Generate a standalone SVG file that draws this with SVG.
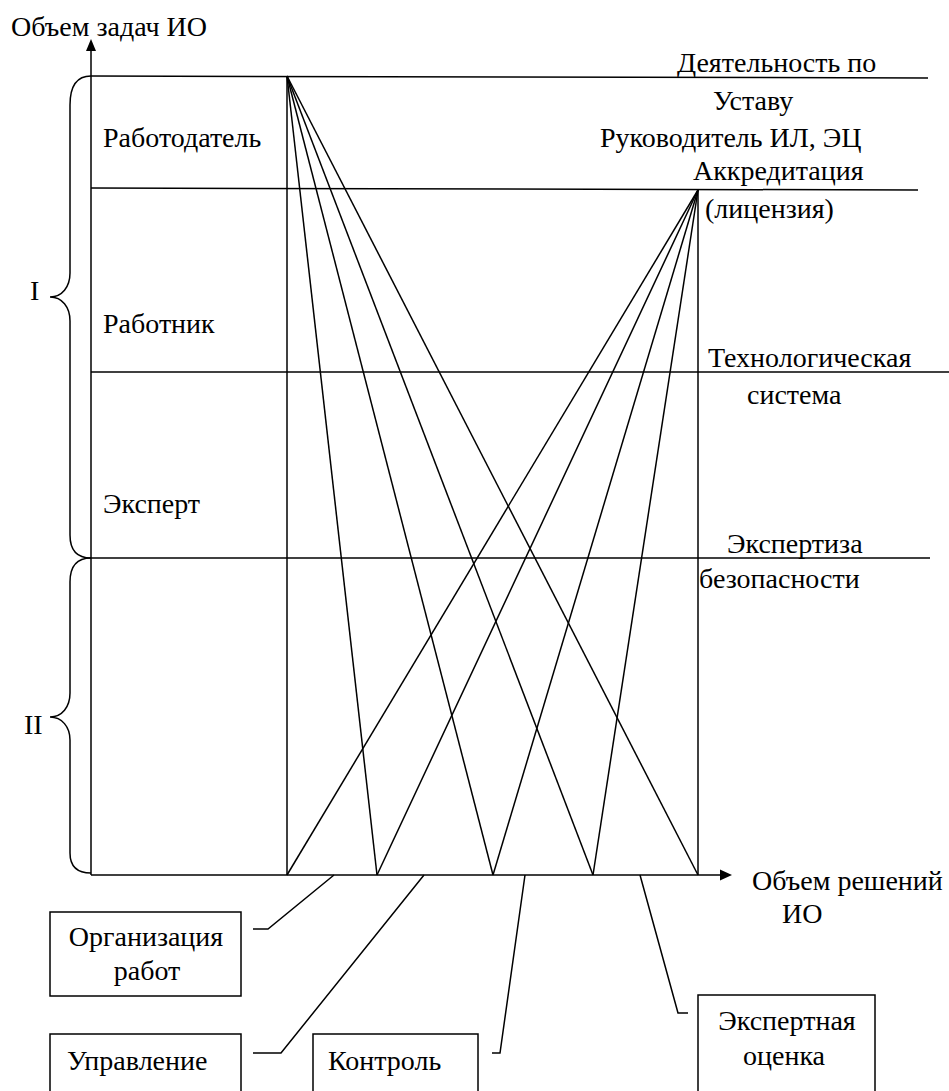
<svg xmlns="http://www.w3.org/2000/svg" width="949" height="1091" viewBox="0 0 949 1091">
<defs>
<style>
.l{stroke:#000;stroke-width:1.5;fill:none}
.b{stroke:#000;stroke-width:1.5;fill:#fff}
</style>
</defs>
<rect width="949" height="1091" fill="#fff"/>
<g id="axes">
<line class="l" x1="91" y1="875" x2="91" y2="48"/>
<line class="l" x1="91" y1="875" x2="721" y2="875"/>
<polygon points="91,39 86,51 96,51" fill="#000"/>
<polygon points="732,875 720,869.5 720,880.5" fill="#000"/>
<text x="11" y="36" style="font-family:'Liberation Serif';font-size:28px">Объем задач ИО</text>
<text x="752" y="890" style="font-family:'Liberation Serif';font-size:28px">Объем решений</text>
<text x="782" y="923" style="font-family:'Liberation Serif';font-size:28px">ИО</text>
</g>
<g id="levels">
<line class="l" x1="91" y1="76" x2="928" y2="78"/>
<line class="l" x1="91" y1="188" x2="918" y2="190"/>
<line class="l" x1="91" y1="372" x2="949" y2="372"/>
<line class="l" x1="91" y1="558" x2="930" y2="558"/>
<line class="l" x1="287" y1="76" x2="287" y2="875"/>
<line class="l" x1="698" y1="190" x2="698" y2="875"/>
</g>
<g id="brace-I">
<path class="l" d="M91,76 C76,76 70,88 70,105 L70,273 C70,287 62,297 50,297 C62,297 70,307 70,321 L70,535 C70,549 76,558 91,558"/>
<text x="30" y="300" style="font-family:'Liberation Serif';font-size:28px">I</text>
</g>
<g id="brace-II">
<path class="l" d="M91,558 C76,558 70,568 70,582 L70,693 C70,707 62,717 50,717 C62,717 70,727 70,740 L70,853 C70,865 76,873 91,873"/>
<text x="24" y="734" style="font-family:'Liberation Serif';font-size:28px">II</text>
</g>
<g id="left-labels">
<text x="103" y="147" style="font-family:'Liberation Serif';font-size:28px">Работодатель</text>
<text x="103" y="333" style="font-family:'Liberation Serif';font-size:28px">Работник</text>
<text x="103" y="513" style="font-family:'Liberation Serif';font-size:28px">Эксперт</text>
</g>
<g id="right-labels">
<text x="677" y="72" style="font-family:'Liberation Serif';font-size:28px">Деятельность по</text>
<text x="713" y="110" style="font-family:'Liberation Serif';font-size:28px">Уставу</text>
<text x="600" y="147" style="font-family:'Liberation Serif';font-size:28px">Руководитель ИЛ, ЭЦ</text>
<text x="693" y="180" style="font-family:'Liberation Serif';font-size:28px">Аккредитация</text>
<text x="705" y="218" style="font-family:'Liberation Serif';font-size:28px">(лицензия)</text>
<text x="708" y="367" style="font-family:'Liberation Serif';font-size:28px">Технологическая</text>
<text x="747" y="404" style="font-family:'Liberation Serif';font-size:28px">система</text>
<text x="727" y="553" style="font-family:'Liberation Serif';font-size:28px">Экспертиза</text>
<text x="699" y="588" style="font-family:'Liberation Serif';font-size:28px">безопасности</text>
</g>
<g id="connectors">
<line class="l" x1="287" y1="76" x2="377" y2="875"/>
<line class="l" x1="287" y1="76" x2="493" y2="875"/>
<line class="l" x1="287" y1="76" x2="593" y2="875"/>
<line class="l" x1="287" y1="76" x2="698" y2="875"/>
<line class="l" x1="698" y1="190" x2="287" y2="875"/>
<line class="l" x1="698" y1="190" x2="377" y2="875"/>
<line class="l" x1="698" y1="190" x2="493" y2="875"/>
<line class="l" x1="698" y1="190" x2="593" y2="875"/>
<polyline class="l" points="334,875 268,929 253,929"/>
<polyline class="l" points="424,875 281,1053 253,1053"/>
<polyline class="l" points="525,875 500,1053 492,1053"/>
<polyline class="l" points="640,875 678,1013 688,1013"/>
</g>
<g id="box-org">
<rect class="b" x="50" y="912" width="191" height="84"/>
<text x="146" y="946" text-anchor="middle" style="font-family:'Liberation Serif';font-size:28px">Организация</text>
<text x="147" y="980" text-anchor="middle" style="font-family:'Liberation Serif';font-size:28px">работ</text>
</g>
<g id="box-upr">
<rect class="b" x="50" y="1034" width="191" height="70"/>
<text x="67" y="1070" style="font-family:'Liberation Serif';font-size:28px">Управление</text>
</g>
<g id="box-kontrol">
<rect class="b" x="313" y="1034" width="165" height="70"/>
<text x="328" y="1070" style="font-family:'Liberation Serif';font-size:28px">Контроль</text>
</g>
<g id="box-ekspert">
<rect class="b" x="698" y="995" width="177" height="110"/>
<text x="787" y="1030" text-anchor="middle" style="font-family:'Liberation Serif';font-size:28px">Экспертная</text>
<text x="784" y="1065" text-anchor="middle" style="font-family:'Liberation Serif';font-size:28px">оценка</text>
</g>
</svg>
